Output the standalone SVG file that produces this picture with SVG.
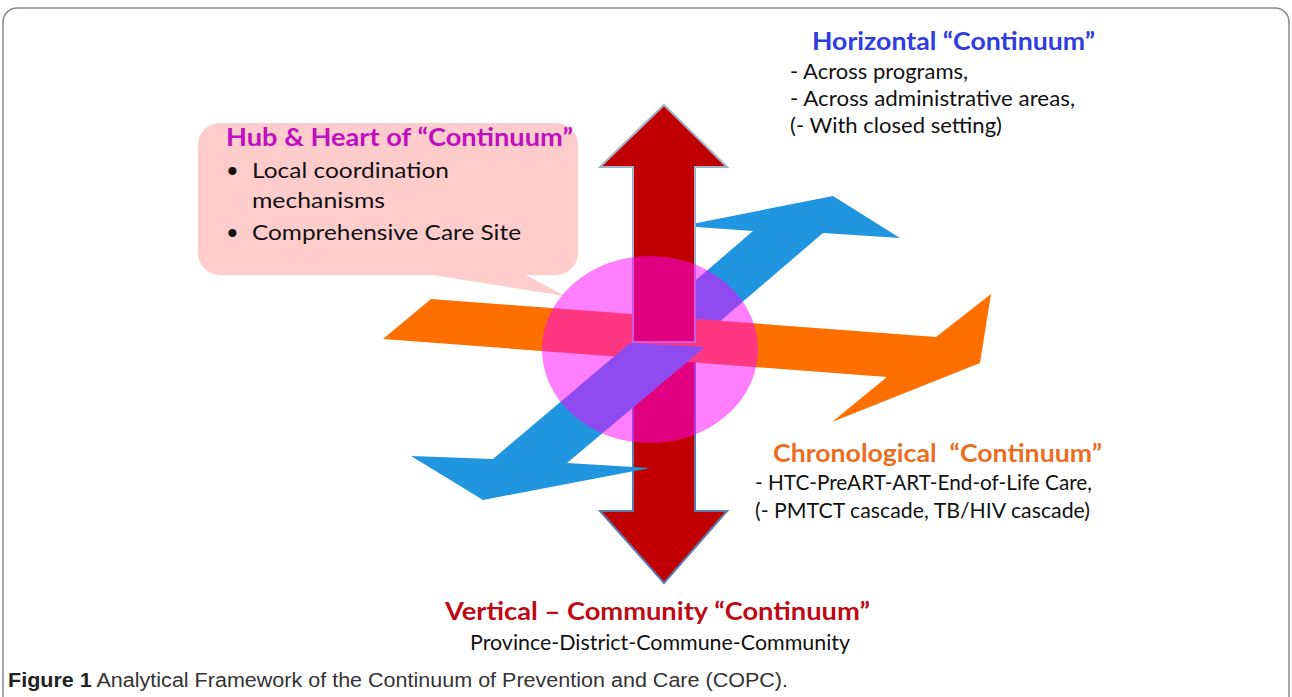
<svg xmlns="http://www.w3.org/2000/svg" width="1292" height="697" viewBox="0 0 1292 697">
<style>
.h{font-family:Lato,"Liberation Sans",sans-serif;font-weight:700;font-size:24px}
.b{font-family:Lato,"Liberation Sans",sans-serif;font-size:22px;fill:#111}
.cap{font-family:"Liberation Sans",Arial,sans-serif;font-size:20px;fill:#333}
.blue{fill:#2196e0}
.red{fill:#c00000;stroke-width:2}
</style>
<rect x="3" y="8" width="1286" height="710" rx="14" fill="#fff" stroke="#8a8a8a" stroke-width="1.5"/>

<g id="callout">
<rect x="198" y="123" width="380" height="152" rx="22" fill="#ffcccc"/>
<polygon points="420,273 565,296 522,273" fill="#ffcccc"/>
<text class="h" x="226" y="146" fill="#bf0fbf" textLength="347" lengthAdjust="spacingAndGlyphs">Hub &amp; Heart of “Continuum”</text>
<text class="b" x="226" y="178">•</text>
<text class="b" x="252" y="178" textLength="197" lengthAdjust="spacingAndGlyphs">Local coordination</text>
<text class="b" x="252" y="208" textLength="133" lengthAdjust="spacingAndGlyphs">mechanisms</text>
<text class="b" x="226" y="240">•</text>
<text class="b" x="252" y="240" textLength="269" lengthAdjust="spacingAndGlyphs">Comprehensive Care Site</text>
</g>

<g id="connectors">
<polygon id="blue-upper" class="blue" points="753,231 682,226 833,196 900,238 823,233 704,335 632,335"/>
<polygon id="red-lower" class="red" stroke="#5a7bb0" points="633,350 695,350 695,511 727,511 664,583 600,511 633,511"/>
<polygon id="orange" fill="#ff6f00" points="431,299 936,337 991,294 980,363 832,422 887,377 383,339"/>
<polygon id="red-upper" class="red" stroke="#9fb3c4" points="664,105 727,167 695,167 695,342 633,342 633,167 600,167"/>
<polygon id="blue-lower" class="blue" points="630,343 705,347 567,463 650,468 483,500 411,456 493,459"/>
</g>

<g id="hub">
<ellipse cx="650" cy="349.5" rx="108" ry="93.5" fill="#ff00ff" fill-opacity="0.5"/>
</g>

<g id="horizontal">
<text class="h" x="812" y="50" fill="#2f3de0" textLength="283" lengthAdjust="spacingAndGlyphs">Horizontal “Continuum”</text>
<text class="b" x="790" y="79" textLength="178" lengthAdjust="spacingAndGlyphs">- Across programs,</text>
<text class="b" x="790" y="106" textLength="285" lengthAdjust="spacingAndGlyphs">- Across administrative areas,</text>
<text class="b" x="790" y="133" textLength="212" lengthAdjust="spacingAndGlyphs">(- With closed setting)</text>
</g>

<g id="chronological">
<text class="h" x="773" y="462" fill="#eb6e1f" textLength="329" lengthAdjust="spacingAndGlyphs">Chronological&#160; “Continuum”</text>
<text class="b" x="755" y="490" textLength="337" lengthAdjust="spacingAndGlyphs">- HTC-PreART-ART-End-of-Life Care,</text>
<text class="b" x="755" y="518" textLength="335" lengthAdjust="spacingAndGlyphs">(- PMTCT cascade, TB/HIV cascade)</text>
</g>

<g id="vertical">
<text class="h" x="445" y="620" fill="#be0a14" textLength="425" lengthAdjust="spacingAndGlyphs">Vertical – Community “Continuum”</text>
<text class="b" x="470" y="650" textLength="380" lengthAdjust="spacingAndGlyphs">Province-District-Commune-Community</text>
</g>

<g id="caption">
<text class="cap" x="8" y="687" textLength="780" lengthAdjust="spacingAndGlyphs"><tspan font-weight="700" fill="#222">Figure 1</tspan> Analytical Framework of the Continuum of Prevention and Care (COPC).</text>
</g>
</svg>
